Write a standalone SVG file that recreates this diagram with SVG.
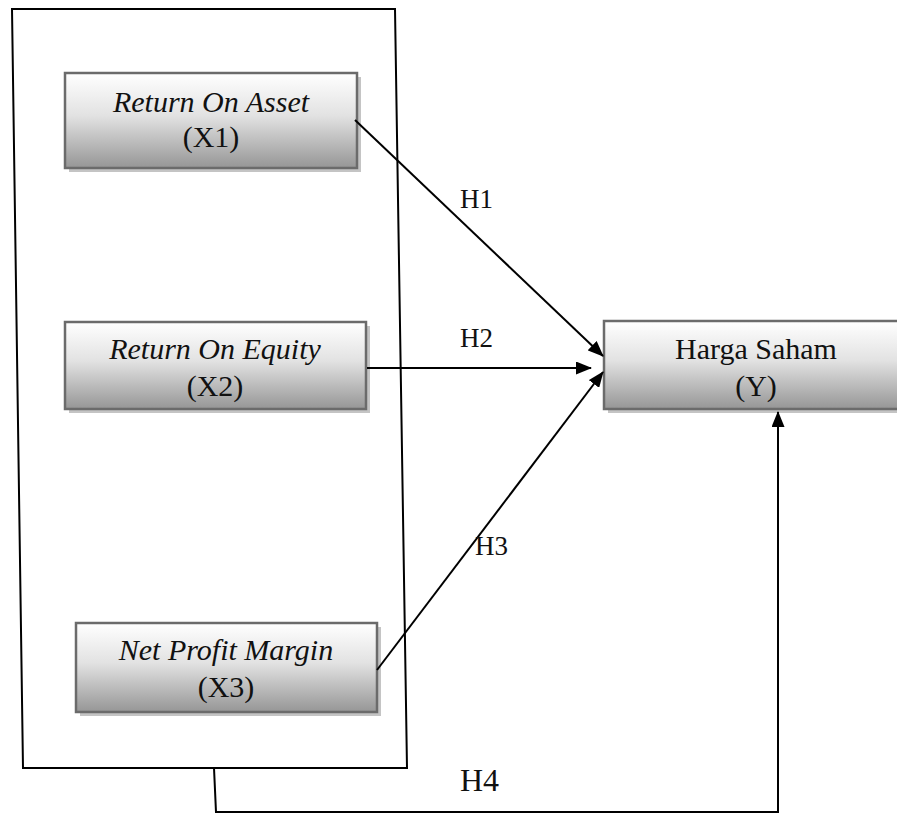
<svg xmlns="http://www.w3.org/2000/svg" width="897" height="814" viewBox="0 0 897 814">
<style>
.box{fill:url(#g);stroke:#6b6b6b;stroke-width:2.5}
.sh{fill:#c4c4c4}
.t{font-family:"Liberation Serif","Times New Roman",serif;font-size:30px;fill:#111;text-anchor:middle}
.i{font-style:italic}
.lbl{font-family:"Liberation Serif","Times New Roman",serif;font-size:27px;fill:#111}
.ln{stroke:#000;stroke-width:2;fill:none}
</style>
<defs>
<linearGradient id="g" x1="0" y1="0" x2="0" y2="1">
<stop offset="0" stop-color="#ffffff"/>
<stop offset="0.45" stop-color="#e2e2e2"/>
<stop offset="1" stop-color="#969696"/>
</linearGradient>
<marker id="ah" markerWidth="16" markerHeight="13" refX="15" refY="6.5" orient="auto" markerUnits="userSpaceOnUse">
<path d="M0,0 L16,6.5 L0,13 z" fill="#000"/>
</marker>
</defs>
<g id="frame">
<polygon points="12,9 395,9 407,768 23,768" fill="none" stroke="#000" stroke-width="2"/>
</g>
<g id="x1">
<rect class="sh" x="69" y="77" width="292" height="95"/>
<rect class="box" x="65" y="73" width="292" height="95"/>
<text class="t i" x="211" y="112">Return On Asset</text>
<text class="t" x="211" y="147">(X1)</text>
</g>
<g id="x2">
<rect class="sh" x="69" y="326" width="301" height="87"/>
<rect class="box" x="65" y="322" width="301" height="87"/>
<text class="t i" x="215" y="359">Return On Equity</text>
<text class="t" x="215" y="396">(X2)</text>
</g>
<g id="x3">
<rect class="sh" x="80" y="627" width="301" height="89"/>
<rect class="box" x="76" y="623" width="301" height="89"/>
<text class="t i" x="226" y="660">Net Profit Margin</text>
<text class="t" x="226" y="697">(X3)</text>
</g>
<g id="y">
<rect class="sh" x="608" y="325" width="300" height="88"/>
<rect class="box" x="604" y="321" width="300" height="88"/>
<text class="t" x="756" y="359">Harga Saham</text>
<text class="t" x="756" y="396">(Y)</text>
</g>
<g id="connectors">
<line class="ln" x1="355" y1="120" x2="603" y2="356" marker-end="url(#ah)"/>
<line class="ln" x1="367" y1="368" x2="591" y2="368" marker-end="url(#ah)"/>
<line class="ln" x1="377" y1="670" x2="603" y2="372" marker-end="url(#ah)"/>
<polyline class="ln" points="214,768 216,812 778,812 778,412" marker-end="url(#ah)"/>
</g>
<g id="labels">
<text class="lbl" x="460" y="208">H1</text>
<text class="lbl" x="460" y="347">H2</text>
<text class="lbl" x="475" y="555">H3</text>
<text class="lbl" x="460" y="791" style="font-size:32px">H4</text>
</g>
</svg>
